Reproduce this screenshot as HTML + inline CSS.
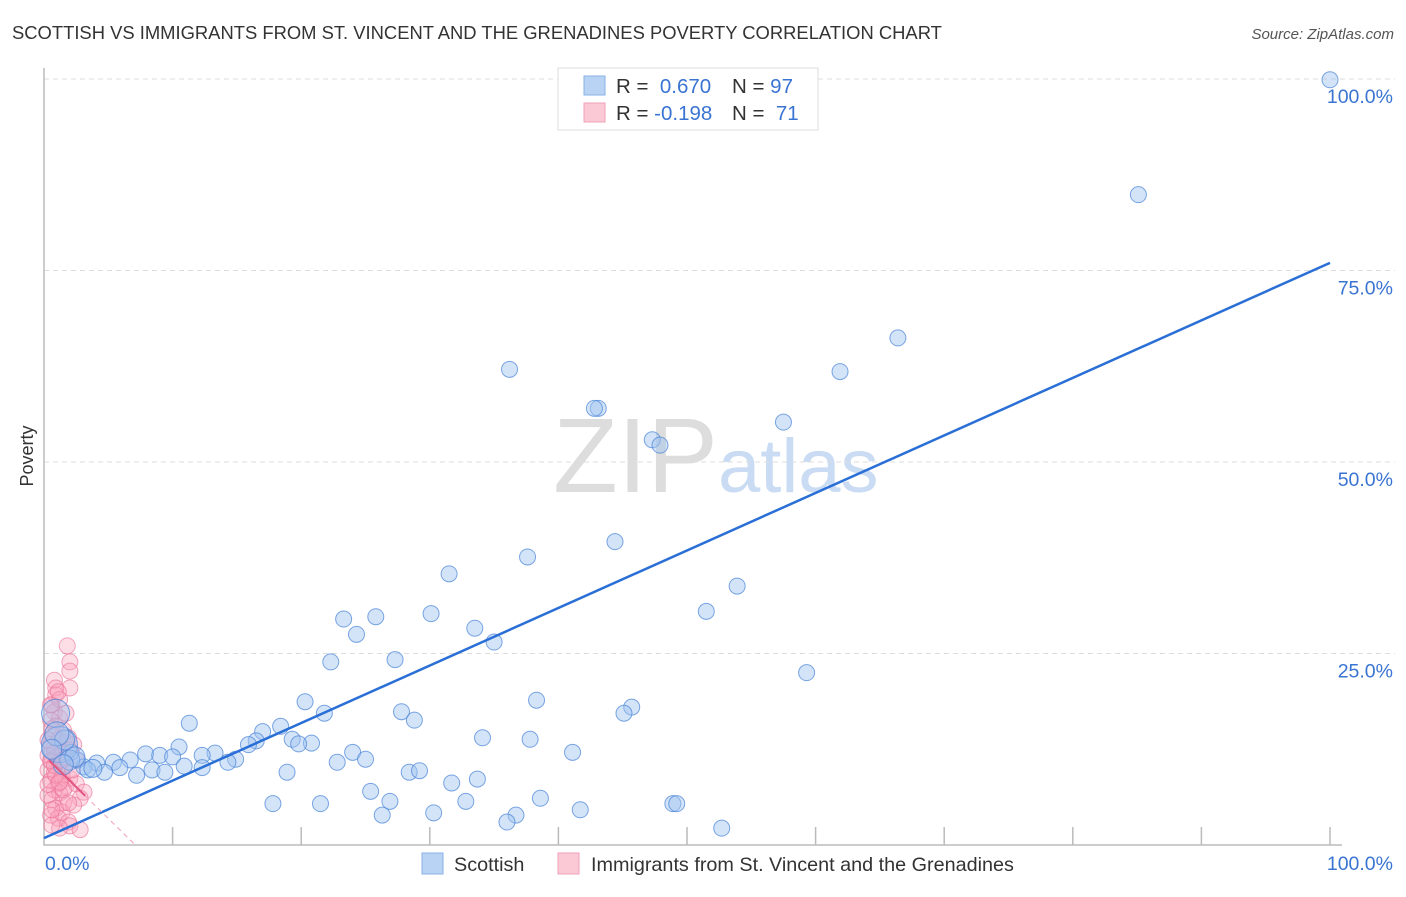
<!DOCTYPE html>
<html><head><meta charset="utf-8"><style>
body{margin:0;background:#fff;font-family:"Liberation Sans",sans-serif;}
svg text{font-family:"Liberation Sans",sans-serif;}
</style></head><body>
<svg id="chart" width="1406" height="892" viewBox="0 0 1406 892">
<text x="12" y="39" font-size="18.4" fill="#333">SCOTTISH VS IMMIGRANTS FROM ST. VINCENT AND THE GRENADINES POVERTY CORRELATION CHART</text>
<text x="1394" y="39" font-size="15" fill="#555" font-style="italic" text-anchor="end">Source: ZipAtlas.com</text>
<text transform="translate(33,456) rotate(-90)" font-size="18" fill="#333" text-anchor="middle">Poverty</text>
<g>
<text x="553" y="492" font-size="106" fill="#ddd" font-family="Liberation Serif">ZIP</text>
<text x="718" y="492" font-size="76" fill="#c9dcf3">atlas</text>
</g>
<g id="grid"></g>
<g id="axes"></g>
<g id="pink"></g>
<g id="blue"></g>
<g id="trends"></g>
<g>
<rect x="558" y="68" width="260" height="62" fill="#fff" stroke="#ddd"/>
<rect x="584" y="76" width="21" height="19" fill="#b9d3f5" stroke="#8ab1e8"/>
<text x="616" y="93" font-size="20.5" fill="#333">R = <tspan fill="#3a74d2">&#160;0.670</tspan></text>
<text x="732" y="93" font-size="20.5" fill="#333">N = <tspan fill="#3a74d2">97</tspan></text>
<rect x="584" y="103" width="21" height="19" fill="#fbc8d6" stroke="#f0a0b8"/>
<text x="616" y="120" font-size="20.5" fill="#333">R = <tspan fill="#3a74d2">-0.198</tspan></text>
<text x="732" y="120" font-size="20.5" fill="#333">N = <tspan fill="#3a74d2">&#160;71</tspan></text>
</g>
<g>
<rect x="422" y="853" width="21" height="21" fill="#b9d3f5" stroke="#8ab1e8"/>
<text x="454" y="871" font-size="19.8" fill="#333">Scottish</text>
<rect x="558" y="853" width="21" height="21" fill="#fbc8d6" stroke="#f0a0b8"/>
<text x="591" y="871" font-size="19.8" fill="#333">Immigrants from St. Vincent and the Grenadines</text>
</g>
</svg>
<script>
const yTicks=[25,50,75,100];
const yTickLabels=["25.0%","50.0%","75.0%","100.0%"];
const xTickLabels=["0.0%","100.0%"];
const blueX=[100,85.1,66.4,61.9,36.2,43.1,42.8,57.5,47.3,47.9,37.6,44.4,31.5,53.9,51.5,23.3,25.8,30.1,24.3,33.5,35.0,22.3,27.3,59.3,20.3,38.3,45.7,45.1,27.8,21.8,28.8,11.3,18.4,17.0,16.5,19.3,15.9,20.8,19.8,10.5,34.1,37.8,41.1,24.0,14.9,13.3,12.3,14.3,25.0,22.8,7.9,9.0,10.0,6.7,5.4,4.1,2.6,3.1,3.4,2.1,1.2,0.9,1.6,5.9,4.7,7.2,8.4,9.4,10.9,12.3,18.9,28.4,29.2,31.7,33.7,25.4,38.6,32.8,26.9,17.8,21.5,41.7,48.9,49.2,30.3,26.3,36.7,36.0,52.7,50.1,58.0,2.0,2.4,1.0,0.6,1.5,3.8];
const blueY=[99.9,84.9,66.2,61.8,62.1,57.0,57.0,55.2,52.9,52.2,37.6,39.6,35.4,33.8,30.5,29.5,29.8,30.2,27.5,28.3,26.5,23.9,24.2,22.5,18.7,18.9,18.0,17.2,17.4,17.2,16.3,15.9,15.5,14.8,13.6,13.8,13.1,13.3,13.2,12.8,14.0,13.8,12.1,12.1,11.2,12.0,11.7,10.8,11.2,10.8,11.9,11.7,11.5,11.1,10.8,10.7,11.1,10.2,9.8,12.1,13.1,17.2,13.7,10.1,9.5,9.1,9.8,9.5,10.3,10.1,9.5,9.5,9.7,8.1,8.6,7.0,6.1,5.7,5.7,5.4,5.4,4.6,5.4,5.4,4.2,3.9,3.9,3.0,2.2,99.9,99.9,11.1,11.5,14.5,12.5,10.5,10.0];
const blueR=[8,8,8,8,8,8,8,8,8,8,8,8,8,8,8,8,8,8,8,8,8,8,8,8,8,8,8,8,8,8,8,8,8,8,8,8,8,8,8,8,8,8,8,8,8,8,8,8,8,8,8,8,8,8,8,8,8,8,8,8,18,14,10,8,8,8,8,8,8,8,8,8,8,8,8,8,8,8,8,8,8,8,8,8,8,8,8,8,8,8,8,10,10,12,10,10,9];
const pinkX=[1.5,1.7,1.7,1.7,0.5,0.6,0.3,0.5,0.9,0.2,0.6,1.2,0.3,0.8,1.4,0.2,0.5,1.1,0,0.6,0.3,0.9,1.2,0,0.5,1.1,1.7,0.2,0.8,1.4,2.2,0.5,0.9,2.8,2.5,0.3,1.2,0.6,1.1,0.2,0.8,1.6,1.7,2.5,0,0.3,0.6,0.9,1.6,2.0,0.2,0.5,1.4,1.9,0,0.6,1.2,0.3,0.9,2.0,0,0.5,1.1,1.7,2.2,0.2,0.8,1.4,0.3,0.9,1.6];
const pinkY=[26.0,23.9,22.7,20.5,21.5,20.5,18.3,17.4,16.6,16.3,15.5,15.0,14.4,13.7,13.4,13.1,12.7,12.1,11.7,11.4,10.8,10.4,10.1,9.8,9.4,9.0,8.7,8.4,8.0,7.7,8.0,7.2,6.8,6.9,6.1,5.9,5.5,4.8,4.3,3.9,3.5,3.0,2.5,2.0,6.5,15.2,19.6,19.0,14.0,13.1,11.0,10.4,11.4,9.8,7.9,9.1,7.2,4.6,2.2,5.2,13.7,12.1,11.1,12.4,11.1,18.3,20.0,17.2,2.6,8.2,5.5];
const blueTrend=[0.9,76.0];
const pinkTrend=[11.7,0.0];
const pinkSolidEnd=3.2, pinkDashEnd=7.1;

const X0=44,X1=1330,Y0=845,Y1=79;
const sx=v=>X0+(X1-X0)*v/100;
const sy=v=>Y0-(Y0-Y1)*v/100;
const NS="http://www.w3.org/2000/svg";
function mk(tag,attrs,parent){const e=document.createElementNS(NS,tag);for(const k in attrs)e.setAttribute(k,attrs[k]);parent.appendChild(e);return e;}
const grid=document.getElementById('grid'),axes=document.getElementById('axes');
yTicks.forEach((t,i)=>{
  const l=mk('line',{x1:X0,x2:1395,y1:sy(t),y2:sy(t),stroke:'#ddd','stroke-dasharray':'5,4'},grid);
  
  
  const tx=mk('text',{x:1393,y:sy(t)+24,'font-size':19.5,fill:'#3a74d2','text-anchor':'end'},axes);
  tx.textContent=yTickLabels[i];
  
  
});
const ax=mk('path',{d:`M${X0} 68 V${Y0} H${X1+12}`,stroke:'#bbb','stroke-width':1.5,fill:'none'},axes);


for(let i=1;i<=10;i++){
  const t=mk('line',{x1:sx(i*10),x2:sx(i*10),y1:Y0,y2:Y0-18,stroke:'#bbb','stroke-width':1.5},axes);
  
  
}
const xl0=mk('text',{x:45,y:870,'font-size':19.5,fill:'#3a74d2'},axes);xl0.textContent=xTickLabels[0];


const xl1=mk('text',{x:1393,y:870,'font-size':19.5,fill:'#3a74d2','text-anchor':'end'},axes);xl1.textContent=xTickLabels[1];


const pg=document.getElementById('pink');
pinkX.forEach((x,i)=>{
  const c=mk('circle',{cx:sx(x)+4,cy:sy(pinkY[i]),r:8,fill:'rgba(248,160,185,0.35)',stroke:'rgba(235,110,150,0.6)','stroke-width':1},pg);
  
  
});
const bg=document.getElementById('blue');
blueX.forEach((x,i)=>{
  const c=mk('circle',{cx:sx(x),cy:sy(blueY[i]),r:blueR[i]||8,fill:'rgba(160,196,240,0.45)',stroke:'rgba(70,130,215,0.7)','stroke-width':1},bg);
  
  
});
const tg=document.getElementById('trends');
const bl=mk('line',{x1:sx(0),y1:sy(blueTrend[0]),x2:sx(100),y2:sy(blueTrend[1]),stroke:'#2a6fd6','stroke-width':2.5},tg);


const pf=x=>pinkTrend[0]+(pinkTrend[1]-pinkTrend[0])*x/pinkDashEnd;
const ps=mk('line',{x1:sx(0.4),y1:sy(pf(0.4)),x2:sx(pinkSolidEnd),y2:sy(pf(pinkSolidEnd)),stroke:'#e2557f','stroke-width':2},tg);


const pd=mk('line',{x1:sx(pinkSolidEnd),y1:sy(pf(pinkSolidEnd)),x2:sx(pinkDashEnd),y2:sy(pf(pinkDashEnd)),stroke:'#f0a0b8','stroke-width':1,'stroke-dasharray':'5,4'},tg);


</script>
</body></html>
